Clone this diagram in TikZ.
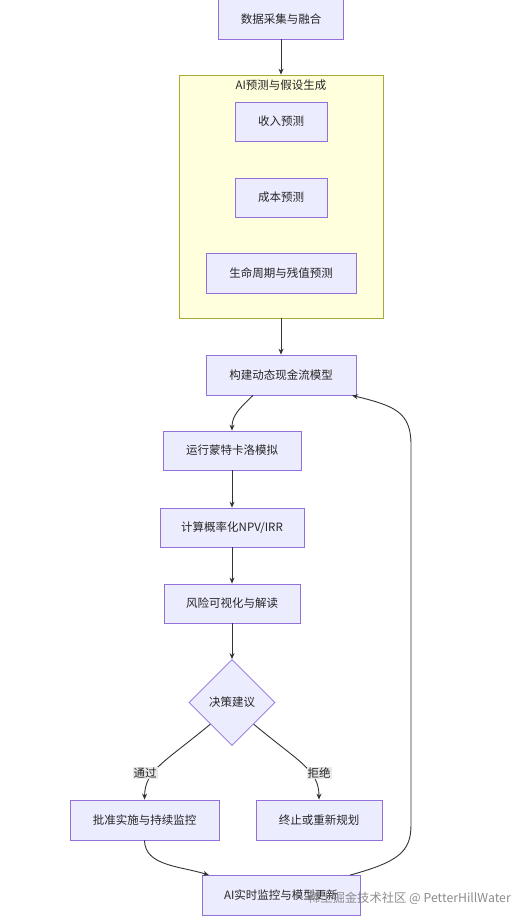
\documentclass[tikz,border=0pt]{standalone}
\usepackage{fontspec}
\newfontfamily\cjk{Noto Sans CJK SC}
\usetikzlibrary{shapes.geometric,arrows.meta}
\definecolor{nodefill}{HTML}{ECECFF}
\definecolor{nodestroke}{HTML}{9370DB}
\definecolor{clfill}{HTML}{FFFFDE}
\definecolor{clstroke}{HTML}{AAAA33}
\definecolor{edgecol}{HTML}{333333}
\definecolor{lblfill}{HTML}{E8E8E8}
\definecolor{wmcol}{HTML}{808080}
\tikzset{
  box/.style={draw=nodestroke, fill=nodefill, line width=0.8pt, minimum height=39pt, inner sep=0pt, font=\cjk\fontsize{11.5}{13}\selectfont, text=black!85},
  decbox/.style={diamond, aspect=1, draw=nodestroke, fill=nodefill, line width=0.8pt, minimum width=86pt, minimum height=86pt, inner sep=0pt, font=\cjk\fontsize{11.5}{13}\selectfont, text=black!85},
  cluster/.style={draw=clstroke, fill=clfill, line width=0.8pt, inner sep=0pt},
  edge/.style={draw=edgecol, line width=0.9pt, -{Stealth[length=6pt,width=5pt]}},
  elabel/.style={fill=lblfill, inner sep=1pt, font=\cjk\fontsize{11.5}{13}\selectfont, text=black!85},
  ctitle/.style={font=\cjk\fontsize{11.5}{13}\selectfont, text=black!85},
  wmark/.style={font=\cjk\fontsize{12.3}{14}\selectfont, text=wmcol, opacity=0.9, inner sep=0pt}
}
\begin{document}
\begin{tikzpicture}[x=1pt, y=-1pt]
\useasboundingbox (0,0) rectangle (527,923);
\fill[white] (0,0) rectangle (527,923);
% cluster
\node[cluster, minimum width=204pt, minimum height=243pt] (cl) at (281,196.5) {};
\node[ctitle] (cltitle) at (281,85) {AI预测与假设生成};
% nodes
\node[box, minimum width=125pt, minimum height=40pt] (n1) at (281,19) {数据采集与融合};
\node[box, minimum width=92pt] (n2) at (281,121.5) {收入预测};
\node[box, minimum width=92pt] (n3) at (281,197.5) {成本预测};
\node[box, minimum width=150pt, minimum height=40pt] (n4) at (281,273) {生命周期与残值预测};
\node[box, minimum width=150pt, minimum height=40pt] (n5) at (281,375) {构建动态现金流模型};
\node[box, minimum width=138pt] (n6) at (232,450.5) {运行蒙特卡洛模拟};
\node[box, minimum width=144pt] (n7) at (232,527.5) {计算概率化NPV/IRR};
\node[box, minimum width=136pt] (n8) at (232,603.5) {风险可视化与解读};
\node[decbox] (dec) at (232,702.5) {决策建议};
\node[box, minimum width=149pt, minimum height=40pt] (n9) at (144.5,820) {批准实施与持续监控};
\node[box, minimum width=126pt, minimum height=40pt] (n10) at (319,820) {终止或重新规划};
\node[box, minimum width=158pt, minimum height=40pt] (n11) at (281,895.5) {AI实时监控与模型更新};
% edges
\draw[edge] (n1.south) -- (cl.north);
\draw[edge] (cl.south) -- (n5.north);
\draw[edge] ([xshift=-28pt]n5.south) .. controls (240,408) and (232,415) .. (n6.north);
\draw[edge] (n6.south) -- (n7.north);
\draw[edge] (n7.south) -- (n8.north);
\draw[edge] (n8.south) -- (dec.north);
\draw[edge] (dec.south west) .. controls (165,762) and (145,770) .. (n9.north);
\draw[edge] (dec.south east) .. controls (299,762) and (319,770) .. (n10.north);
\node[elabel] (l1) at (145,773) {通过};
\node[elabel] (l2) at (319,773) {拒绝};
\draw[edge] (n9.south) .. controls (145,866) and (180,866) .. ([xshift=-72pt]n11.north);
\draw[edge] ([xshift=69pt]n11.north) .. controls (398,862) and (411,852) .. (411,825) -- (411,445) .. controls (411,412) and (395,406) .. ([xshift=71pt]n5.south);
% watermark
\node[wmark, anchor=east] (wm) at (511,898) {稀土掘金技术社区 @ PetterHillWater};
\end{tikzpicture}
\end{document}
